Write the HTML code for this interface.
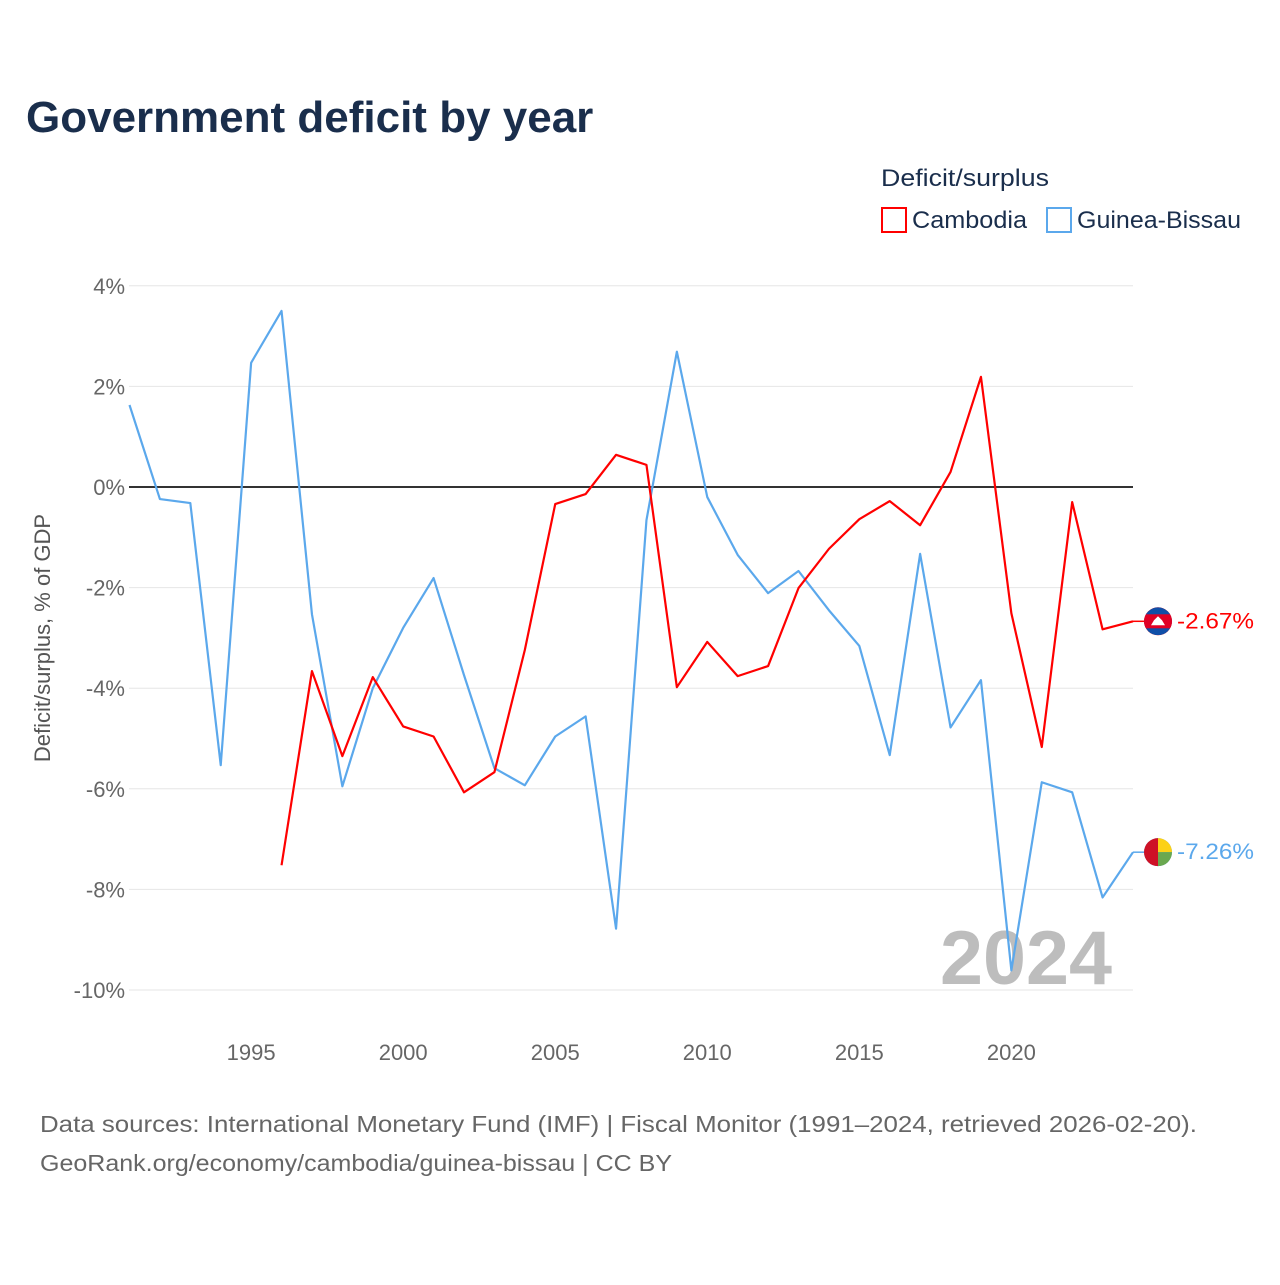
<!DOCTYPE html>
<html><head><meta charset="utf-8">
<style>
body{margin:0;background:#fff;font-family:"Liberation Sans",sans-serif;}
svg text{font-family:"Liberation Sans",sans-serif;}
</style></head>
<body>
<svg id="chart" width="1280" height="1280" viewBox="0 0 1280 1280" xmlns="http://www.w3.org/2000/svg">
<defs><clipPath id="khclip"><circle cx="1158" cy="621" r="14"/></clipPath></defs>
<text x="26" y="132" font-size="44" font-weight="bold" fill="#1a2e4c">Government deficit by year</text>
<text x="881" y="186" font-size="24" fill="#1a2e4c" textLength="168" lengthAdjust="spacingAndGlyphs">Deficit/surplus</text>
<g>
<rect x="882" y="208" width="24" height="24" fill="none" stroke="#ff0000" stroke-width="2"/>
<text x="912" y="228" font-size="24" fill="#1a2e4c" textLength="115" lengthAdjust="spacingAndGlyphs">Cambodia</text></g>
<g>
<rect x="1047" y="208" width="24" height="24" fill="none" stroke="#5ba8ec" stroke-width="2"/>
<text x="1077" y="228" font-size="24" fill="#1a2e4c" textLength="164" lengthAdjust="spacingAndGlyphs">Guinea-Bissau</text></g>
<g id="grid"></g>
<text transform="translate(50,638) rotate(-90)" text-anchor="middle" font-size="22" fill="#555">Deficit/surplus, % of GDP</text>
<text x="1112" y="984" text-anchor="end" font-size="76" font-weight="bold" fill="#bdbdbd" textLength="172" lengthAdjust="spacingAndGlyphs">2024</text>
<g id="series"></g>
<text x="40" y="1132" font-size="23" fill="#666" textLength="1157" lengthAdjust="spacingAndGlyphs">Data sources: International Monetary Fund (IMF) | Fiscal Monitor (1991–2024, retrieved 2026-02-20).</text>
<text x="40" y="1171" font-size="23" fill="#666" textLength="632" lengthAdjust="spacingAndGlyphs">GeoRank.org/economy/cambodia/guinea-bissau | CC BY</text>
</svg>
<script>
const yTicks=[4,2,0,-2,-4,-6,-8,-10];
const xTicks=[1995,2000,2005,2010,2015,2020];
const gbYears=[1991,1992,1993,1994,1995,1996,1997,1998,1999,2000,2001,2002,2003,2004,2005,2006,2007,2008,2009,2010,2011,2012,2013,2014,2015,2016,2017,2018,2019,2020,2021,2022,2023,2024];
const gbValues=[1.63,-0.24,-0.32,-5.53,2.47,3.5,-2.53,-5.95,-4.0,-2.8,-1.81,-3.74,-5.59,-5.93,-4.96,-4.56,-8.78,-0.66,2.69,-0.2,-1.35,-2.11,-1.67,-2.45,-3.16,-5.33,-1.33,-4.78,-3.84,-9.61,-5.87,-6.07,-8.16,-7.26];
const khYears=[1996,1997,1998,1999,2000,2001,2002,2003,2004,2005,2006,2007,2008,2009,2010,2011,2012,2013,2014,2015,2016,2017,2018,2019,2020,2021,2022,2023,2024];
const khValues=[-7.52,-3.66,-5.35,-3.78,-4.76,-4.96,-6.07,-5.67,-3.24,-0.34,-0.14,0.64,0.44,-3.98,-3.08,-3.76,-3.56,-2.01,-1.23,-0.64,-0.28,-0.76,0.3,2.19,-2.51,-5.17,-0.3,-2.83,-2.67];
const X=y=>129.5+(y-1991)*(1133-129.5)/33;
const Y=v=>487-v*50.3;
const NS="http://www.w3.org/2000/svg";
function mk(t,a,p){const e=document.createElementNS(NS,t);for(const k in a)e.setAttribute(k,a[k]);p.appendChild(e);return e;}
const grid=document.getElementById('grid');
yTicks.forEach(v=>{
 const l=mk('line',{x1:129,x2:1133,y1:Y(v),y2:Y(v),stroke:v===0?'#333':'#e6e6e6','stroke-width':v===0?2:1},grid);
 
 
 const t=mk('text',{x:125,y:Y(v)+8,'text-anchor':'end','font-size':22,fill:'#666'},grid);
 t.textContent=v+'%';
 
 
});
xTicks.forEach(y=>{
 const t=mk('text',{x:X(y),y:1060,'text-anchor':'middle','font-size':22,fill:'#666'},grid);
 t.textContent=y;
 
 
});
const s=document.getElementById('series');
function line(ys,vs,col,name){
 const p=mk('polyline',{points:ys.map((y,i)=>X(y)+','+Y(vs[i])).join(' '),fill:'none',stroke:col,'stroke-width':2.2,'stroke-linejoin':'round'},s);
 
 
 const last=vs[vs.length-1];
 const ly=Y(last);
 mk('line',{x1:X(ys[ys.length-1]),x2:1145,y1:ly,y2:ly,stroke:col,'stroke-width':1.5},s);
 const c=mk('circle',{cx:1158,cy:ly,r:14,fill:col},s);
 
 
 const t=mk('text',{x:1177,y:ly+7,'font-size':22,fill:col,textLength:77,lengthAdjust:'spacingAndGlyphs'},s);
 t.textContent=last.toFixed(2)+'%';
 
 
 return ly;
}
const gy=line(gbYears,gbValues,'#5ba8ec','guinea-bissau-line');
mk('path',{d:`M1158 ${gy-14} A14 14 0 0 1 1172 ${gy} L1158 ${gy} Z`,fill:'#fcd116'},s);
mk('path',{d:`M1172 ${gy} A14 14 0 0 1 1158 ${gy+14} L1158 ${gy} Z`,fill:'#6aa84f'},s);
mk('path',{d:`M1158 ${gy-14} A14 14 0 0 0 1158 ${gy+14} Z`,fill:'#ce1126'},s);
const ky=line(khYears,khValues,'#ff0000','cambodia-line');
document.querySelector('#khclip circle').setAttribute('cy',ky);
const kg=mk('g',{'clip-path':'url(#khclip)'},s);
mk('circle',{cx:1158,cy:ky,r:14,fill:'#0f4fa8'},kg);
mk('rect',{x:1140,y:ky-7,width:36,height:14,fill:'#e00025'},kg);
mk('path',{d:`M1151 ${ky+4} L1154 ${ky-1} L1158 ${ky-5} L1162 ${ky-1} L1165 ${ky+4} Z`,fill:'#fff'},kg);
</script>
</body></html>
